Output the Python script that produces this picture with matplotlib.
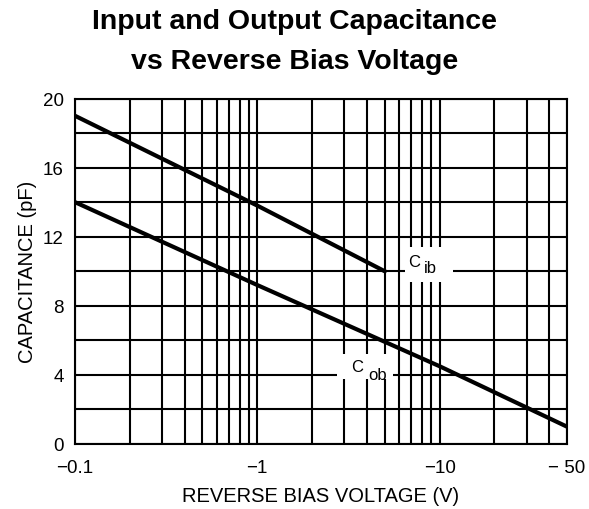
import matplotlib
matplotlib.use("Agg")
import matplotlib.pyplot as plt
from matplotlib.patches import Rectangle
from matplotlib.ticker import FixedLocator, NullFormatter

# values
cib_volts = [0.1, 1, 5]
cib_pf = [19.0, 13.8, 10.0]
cob_volts = [0.1, 1, 10, 50]
cob_pf = [14.0, 9.2, 4.5, 1.0]

x_major = [0.1, 1, 10, 50]
x_major_labels = ["\u22120.1", "\u22121", "\u221210", "\u2212 50"]
x_minor = [0.2, 0.3, 0.4, 0.5, 0.6, 0.7, 0.8, 0.9,
           2, 3, 4, 5, 6, 7, 8, 9, 20, 30, 40]
y_major = [0, 4, 8, 12, 16, 20]
y_minor = [2, 6, 10, 14, 18]

plt.rcParams["font.family"] = ["Liberation Sans", "DejaVu Sans"]

fig = plt.figure(figsize=(5.89, 5.10), dpi=100)
ax = fig.add_axes([0.1273, 0.1275, 0.8354, 0.6774])

ax.set_xscale("log")
ax.set_xlim(0.1, 50)
ax.set_ylim(0, 20)

ax.xaxis.set_major_locator(FixedLocator(x_major))
ax.xaxis.set_minor_locator(FixedLocator(x_minor))
ax.xaxis.set_minor_formatter(NullFormatter())
ax.set_xticklabels(x_major_labels)
ax.yaxis.set_major_locator(FixedLocator(y_major))
ax.yaxis.set_minor_locator(FixedLocator(y_minor))

ax.tick_params(which="both", length=0, labelsize=13.5, colors="black")
ax.tick_params(axis="x", pad=11)
ax.tick_params(axis="y", pad=8)
ax.set_axisbelow(True)
ax.grid(True, which="both", color="black", linewidth=1.5)
for s in ax.spines.values():
    s.set_linewidth(1.5)
    s.set_zorder(0.6)

# white patches behind the curve labels (they break the grid)
ax.add_patch(Rectangle((6.5, 9.4), 11.8 - 6.5, 11.4 - 9.4, facecolor="white",
                       edgecolor="none", zorder=1))
ax.add_patch(Rectangle((2.75, 3.75), 5.55 - 2.75, 5.2 - 3.75, facecolor="white",
                       edgecolor="none", zorder=1))

ax.plot(cib_volts, cib_pf, color="black", linewidth=3, zorder=2)
ax.plot(cob_volts, cob_pf, color="black", linewidth=3, zorder=2)

# curve labels: "C" with a lowered, same-size subscript
ax.text(7.29, 10.57, "C", fontsize=12, ha="center", va="center", zorder=3)
ax.text(8.93, 10.22, "ib", fontsize=12, ha="center", va="center", zorder=3)
ax.text(3.54, 4.49, "C", fontsize=12, ha="center", va="center", zorder=3)
ax.text(4.56, 4.05, "ob", fontsize=12, ha="center", va="center", zorder=3)

ax.set_xlabel("REVERSE BIAS VOLTAGE (V)", fontsize=14.5, labelpad=7)
ax.set_ylabel("CAPACITANCE (pF)", fontsize=14.5, labelpad=4)

fig.suptitle("Input and Output Capacitance\nvs Reverse Bias Voltage",
             x=0.5, y=0.982, fontsize=20.5, fontweight="bold",
             linespacing=1.7, va="top")

fig.savefig("out.png", dpi=100)
